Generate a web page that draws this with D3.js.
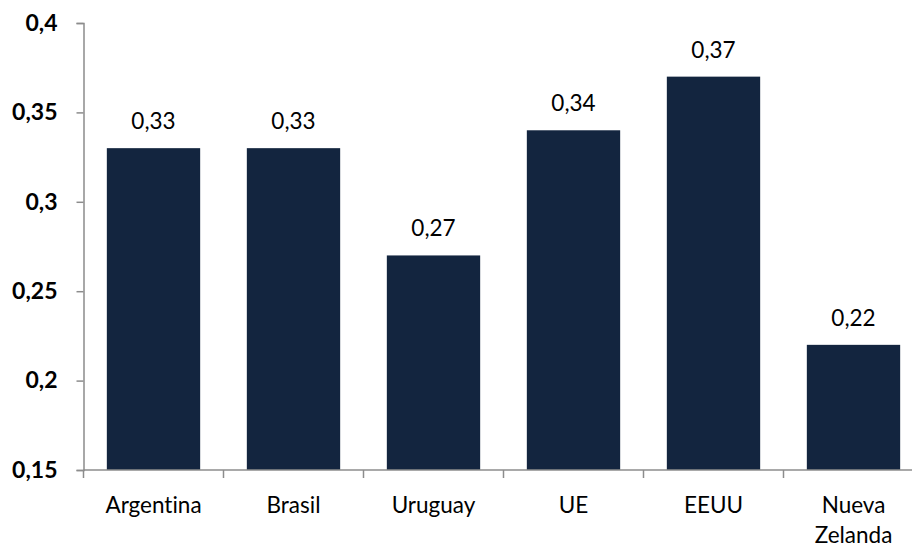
<!DOCTYPE html>
<html>
<head>
<meta charset="utf-8">
<script src="https://cdn.jsdelivr.net/npm/d3@7"></script>
<style>
  body { margin: 0; background: #fff; }
  svg { display: block; }
  svg text { font-family: Lato, "Open Sans", sans-serif; font-variant-ligatures: none; }
</style>
</head>
<body>
<svg id="chart" width="912" height="547"></svg>
<script>
// values
var categories = ["Argentina", "Brasil", "Uruguay", "UE", "EEUU", "Nueva Zelanda"];
var values = [0.33, 0.33, 0.27, 0.34, 0.37, 0.22];
var yTicks = [0.15, 0.2, 0.25, 0.3, 0.35, 0.4];

function main() {
    var svg = d3.select("#chart");
    var left = 83.5, top = 23, bottom = 470, bandW = 140;

    var fmt = d3.formatLocale({decimal: ",", thousands: ".", grouping: [3], currency: ["", ""]}).format("~g");

    var x = d3.scaleBand().domain(categories)
        .range([left, left + bandW * categories.length])
        .paddingInner(1 / 3).paddingOuter(1 / 6);
    var y = d3.scaleLinear().domain([0.15, 0.4]).range([bottom, top]);

    // bars
    svg.selectAll(".bar")
        .data(values)
        .enter().append("rect")
        .attr("class", "bar")
        .attr("x", function(d, i) { return x(categories[i]); })
        .attr("y", function(d) { return y(d); })
        .attr("width", x.bandwidth())
        .attr("height", function(d) { return y(0.15) - y(d); })
        .attr("fill", "#13253f");

    // value labels
    svg.selectAll(".val")
        .data(values)
        .enter().append("text")
        .attr("class", "val")
        .attr("x", function(d, i) { return x(categories[i]) + x.bandwidth() / 2; })
        .attr("y", function(d) { return y(d) - 19; })
        .attr("text-anchor", "middle")
        .style("font-size", "22.5px")
        .attr("fill", "#000")
        .text(function(d) { return fmt(d); });

    // y axis
    var yAxis = svg.append("g")
        .attr("transform", "translate(" + left + ",0)")
        .call(d3.axisLeft(y).tickValues(yTicks).tickSize(7).tickPadding(19).tickFormat(fmt));
    yAxis.select(".domain").attr("stroke", "#8c8c8c").attr("stroke-width", 1.5);
    yAxis.selectAll(".tick line").attr("stroke", "#8c8c8c").attr("stroke-width", 1.5);
    yAxis.selectAll(".tick text")
        .style("font-size", "23px").style("font-weight", "bold").attr("fill", "#000");

    // x axis: ticks between categories
    var xg = svg.append("g");
    xg.append("line")
        .attr("x1", left).attr("x2", left + bandW * categories.length)
        .attr("y1", bottom).attr("y2", bottom)
        .attr("stroke", "#8c8c8c").attr("stroke-width", 1.5);
    xg.selectAll(".xt")
        .data(d3.range(categories.length + 1))
        .enter().append("line")
        .attr("x1", function(i) { return left + i * bandW; })
        .attr("x2", function(i) { return left + i * bandW; })
        .attr("y1", bottom).attr("y2", bottom + 8)
        .attr("stroke", "#8c8c8c").attr("stroke-width", 1.5);

    var labels = xg.selectAll(".xl")
        .data(categories)
        .enter().append("text")
        .attr("class", "xl")
        .attr("text-anchor", "middle")
        .style("font-size", "22.5px")
        .attr("fill", "#000")
        .attr("transform", function(d) { return "translate(" + (x(d) + x.bandwidth() / 2) + ",513)"; });
    labels.each(function(d) {
        var words = d === "Nueva Zelanda" ? ["Nueva", "Zelanda"] : [d];
        var t = d3.select(this);
        words.forEach(function(w, k) {
            t.append("tspan").attr("x", 0).attr("y", k * 30).text(w);
        });
    });
}
main();
</script>
</body>
</html>
